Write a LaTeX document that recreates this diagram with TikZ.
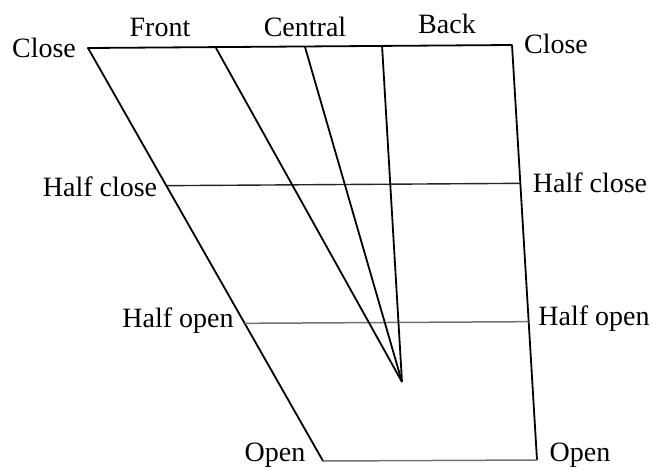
\documentclass[tikz,border=0pt]{standalone}
\usepackage{fontspec}
\setmainfont{Liberation Serif}
\usetikzlibrary{calc}
\begin{document}
\begin{tikzpicture}[x=1pt, y=-1pt, line join=round,
    lbl/.style={font=\fontsize{28}{32}\selectfont, inner sep=0pt, anchor=base},
    chartline/.style={line width=1.8pt},
    levelline/.style={line width=1.5pt, black!55}]
    \useasboundingbox (0,0) rectangle (652,469);
    \coordinate (TL) at (88,48);
    \coordinate (TR) at (512,45);
    \coordinate (BR) at (537,460);
    \coordinate (BL) at (323,461);
    \coordinate (hcL) at ($(TL)!1/3!(BL)$);
    \coordinate (hcR) at ($(TR)!1/3!(BR)$);
    \coordinate (hoL) at ($(TL)!2/3!(BL)$);
    \coordinate (hoR) at ($(TR)!2/3!(BR)$);
    \coordinate (F) at (216,48);
    \coordinate (C) at (305,47);
    \coordinate (B) at (382,45);
    \coordinate (V) at (402,382);
    \draw[chartline] (BL) -- (TL) -- (TR) -- (BR);
    \draw[levelline] (BL) -- (BR);
    \draw[chartline, line width=1.4pt, black!85] (hcL) -- (hcR);
    \draw[levelline] (hoL) -- (hoR);
    \draw[chartline] (F) -- (V);
    \draw[chartline] (C) -- (V);
    \draw[chartline] (B) -- (V);
    \node[lbl] (closeL) at (44,57) {Close};
    \node[lbl] (front) at (160,36) {Front};
    \node[lbl] (central) at (305,36) {Central};
    \node[lbl] (back) at (447,33) {Back};
    \node[lbl] (closeR) at (556,53) {Close};
    \node[lbl] (halfcloseL) at (100,196) {Half close};
    \node[lbl] (halfcloseR) at (590,192) {Half close};
    \node[lbl] (halfopenL) at (178,327) {Half open};
    \node[lbl] (halfopenR) at (594,325) {Half open};
    \node[lbl] (openL) at (275,461) {Open};
    \node[lbl] (openR) at (580,461) {Open};
\end{tikzpicture}
\end{document}
